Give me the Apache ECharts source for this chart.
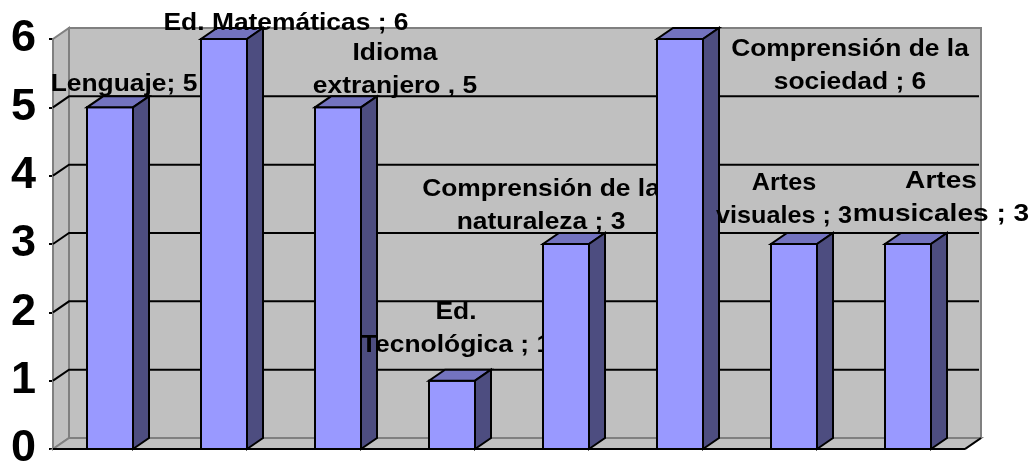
<!DOCTYPE html>
<html>
<head>
<meta charset="utf-8">
<style>
  html, body { margin: 0; padding: 0; background: #fff; }
  #main { width: 1035px; height: 466px; }
</style>
<script src="https://cdn.jsdelivr.net/npm/echarts@6/dist/echarts.min.js"></script>
</head>
<body>
<div id="main"></div>
<script>
const categories = [
  'Lenguaje', 'Ed. Matemáticas', 'Idioma extranjero', 'Ed. Tecnológica',
  'Comprensión de la naturaleza', 'Comprensión de la sociedad', 'Artes visuales', 'Artes musicales',
];
const values = [5, 6, 5, 1, 3, 6, 3, 3];
const labels = [
  'Lenguaje; 5', 'Ed. Matemáticas ; 6', 'Idioma\nextranjero , 5', 'Ed.\nTecnológica ; 1',
  'Comprensión de la\nnaturaleza ; 3', 'Comprensión de la\nsociedad ; 6', 'Artes\nvisuales ; 3', 'Artes\nmusicales ; 3',
];
const gridValues = [1, 2, 3, 4, 5];

// hand placed label offsets from the front top of each bar
const labelOffsets = [
  [14, -23], [62, -16], [57, -37], [4, -52], [-25, -38], [170, 27], [-10, -44], [33, -46],
];
const labelStretch = [1.1, 1.1, 1.1, 1.1, 1.1, 1.1, 1.05, 1.17];

const depthX = 16;
const depthY = -11;
const barWidth = 46;
const font = 'bold 24px "Liberation Sans", Arial, sans-serif';

const shift = (p) => [p[0] + depthX, p[1] + depthY];

const chart = echarts.init(document.getElementById('main'));

const renderWalls = (params, api) => {
  const a = api.coord([0, 0]);
  const band = api.size([1, 0])[0];
  const left = a[0] - band / 2;
  const right = left + band * categories.length;
  const top = api.coord([0, 6])[1];
  const p00 = [left, a[1]];
  const p10 = [right, a[1]];
  const p01 = [left, top];
  const wallStyle = { fill: '#c0c0c0', stroke: '#808080', lineWidth: 2 };
  const children = [
    { type: 'polygon', shape: { points: [shift(p00), shift(p10), shift([right, top]), shift(p01)] }, style: wallStyle },
    { type: 'polygon', shape: { points: [p00, shift(p00), shift(p01), p01] }, style: wallStyle },
    { type: 'polygon', shape: { points: [p00, p10, shift(p10), shift(p00)] }, style: wallStyle },
    { type: 'line', shape: { x1: p00[0], y1: p00[1], x2: p10[0], y2: p10[1] }, style: { stroke: '#000', lineWidth: 2 } },
    { type: 'line', shape: { x1: p10[0], y1: p10[1], x2: p10[0] + depthX, y2: p10[1] + depthY }, style: { stroke: '#000', lineWidth: 2 } },
  ];
  gridValues.forEach((v) => {
    const y = api.coord([0, v])[1];
    children.push({
      type: 'polyline',
      shape: { points: [[left, y], shift([left, y]), [right + depthX - 2, y + depthY]] },
      style: { fill: 'none', stroke: '#000', lineWidth: 2 },
    });
  });
  return { type: 'group', children };
};

const renderBar = (params, api) => {
  const i = api.value(0);
  const v = api.value(1);
  const t = api.coord([i, v]);
  const b = api.coord([i, 0]);
  const x0 = t[0] - barWidth / 2;
  const x1 = t[0] + barWidth / 2;
  const line = { stroke: '#000', lineWidth: 2, lineJoin: 'miter' };
  const off = labelOffsets[i];
  const z2 = i * 10;
  return {
    type: 'group',
    children: [
      { type: 'polygon', z2, shape: { points: [[x0, b[1]], [x1, b[1]], [x1, t[1]], [x0, t[1]]] }, style: { fill: '#9999ff', ...line } },
      { type: 'polygon', z2, shape: { points: [[x0, t[1]], [x1, t[1]], shift([x1, t[1]]), shift([x0, t[1]])] }, style: { fill: '#7373bf', ...line } },
      { type: 'polygon', z2, shape: { points: [[x1, b[1]], shift([x1, b[1]]), shift([x1, t[1]]), [x1, t[1]]] }, style: { fill: '#4d4d80', ...line } },
      {
        type: 'text',
        z2: z2 + 1,
        x: t[0] + off[0],
        y: t[1] + off[1],
        scaleX: labelStretch[i],
        style: {
          x: 0,
          y: 0,
          text: labels[i],
          font,
          fill: '#000',
          align: 'center',
          verticalAlign: 'middle',
          lineHeight: 33,
        },
      },
    ],
  };
};

chart.setOption({
  animation: false,
  grid: { left: 53, right: 70, top: 39, bottom: 17, outerBoundsMode: 'none' },
  tooltip: { show: false },
  xAxis: {
    type: 'category',
    data: categories,
    axisLabel: { show: false },
    axisTick: { show: false },
    axisLine: { show: false },
    splitLine: { show: false },
  },
  yAxis: {
    type: 'value',
    min: 0,
    max: 6,
    interval: 1,
    axisLine: { show: true, lineStyle: { color: '#000', width: 2 } },
    axisTick: { show: true, length: 4, lineStyle: { color: '#000', width: 2 } },
    axisLabel: {
      margin: 17,
      color: '#000',
      fontFamily: '"Liberation Sans", Arial, sans-serif',
      fontWeight: 'bold',
      fontSize: 45,
    },
    splitLine: { show: false },
  },
  series: [
    {
      type: 'custom',
      renderItem: renderWalls,
      data: [[0, 0]],
      silent: true,
      z: 1,
      clip: false,
    },
    {
      type: 'custom',
      renderItem: renderBar,
      data: values.map((v, i) => [i, v]),
      encode: { x: 0, y: 1 },
      silent: true,
      z: 5,
      clip: false,
    },
  ],
});
</script>
</body>
</html>
